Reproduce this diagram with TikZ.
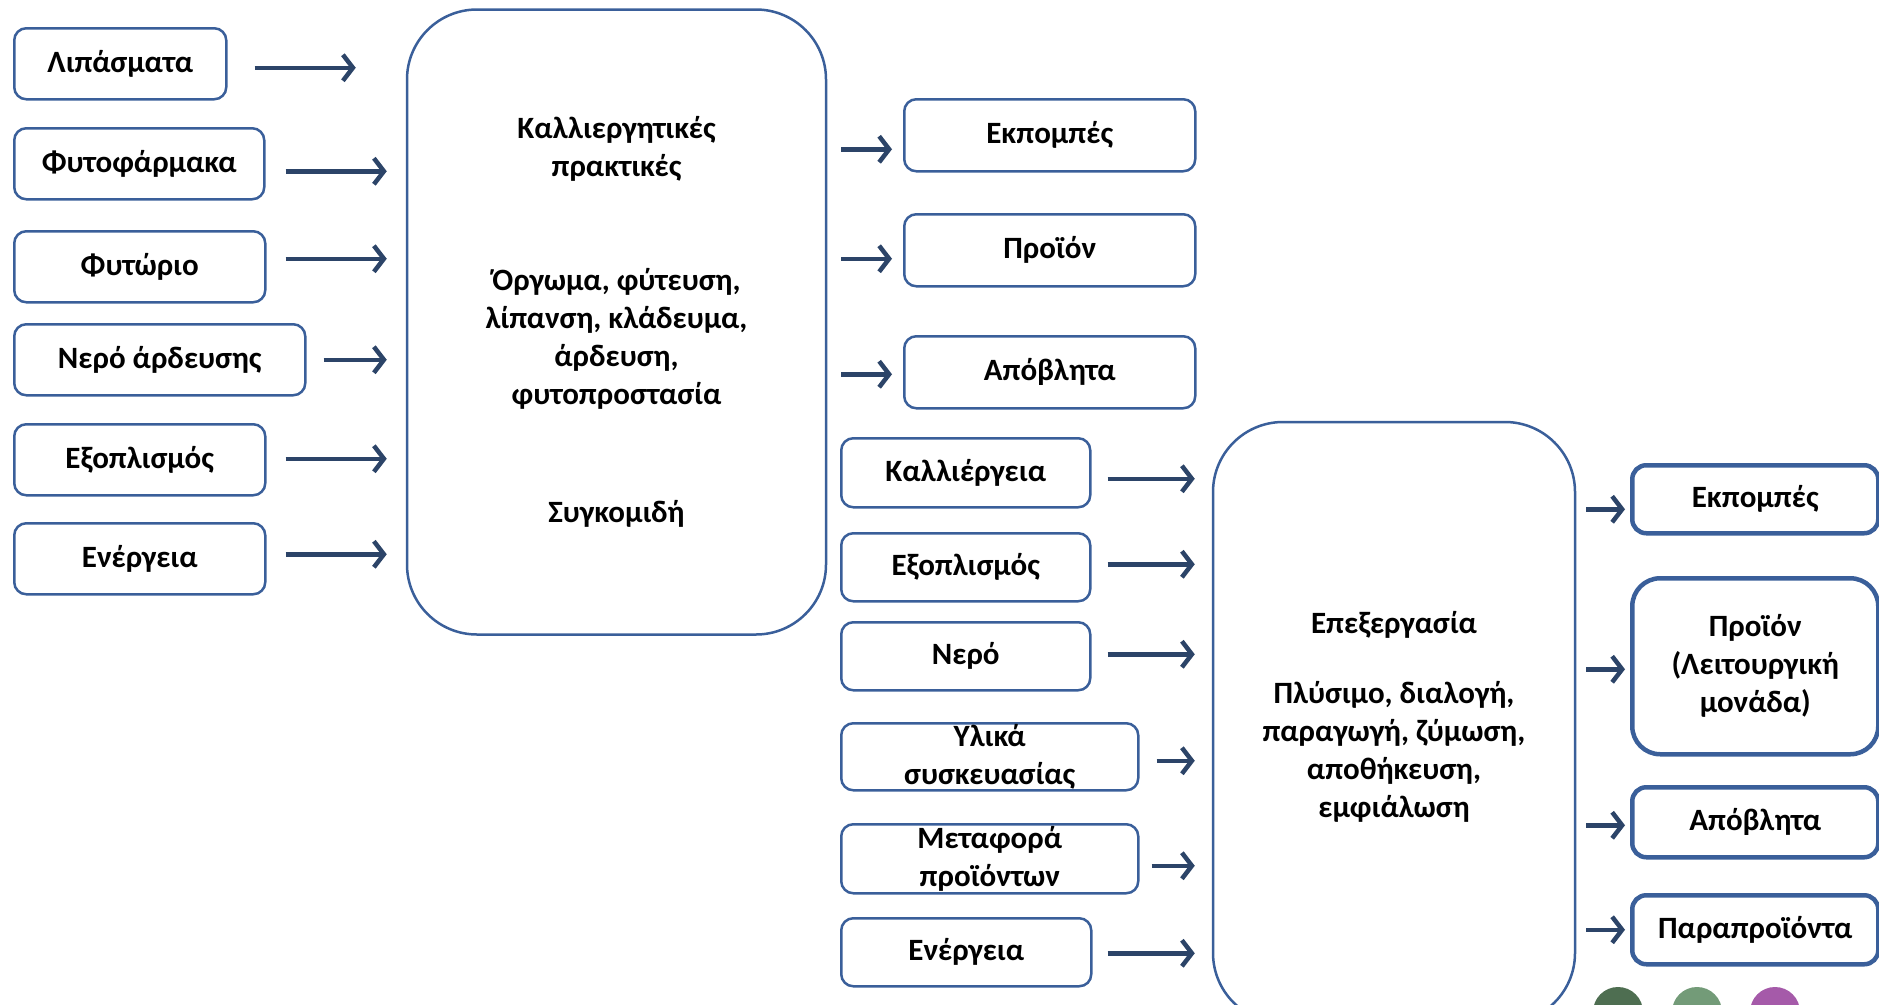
\documentclass[tikz,border=0pt]{standalone}
\usepackage{fontspec}
\setmainfont{Carlito}[BoldFont={Carlito Bold}]
\usetikzlibrary{arrows.meta,positioning,calc}
\definecolor{BoxEdge}{HTML}{3A5F9A}
\definecolor{ArrowNavy}{HTML}{2C4468}
\definecolor{DotA}{HTML}{4E6E51}
\definecolor{DotB}{HTML}{739B78}
\definecolor{DotC}{HTML}{A55AA9}
\tikzset{every node/.style={font=\fontsize{31}{38}\selectfont\bfseries},
 item/.style={draw=BoxEdge,line width=2.5pt,rounded corners=12pt,align=center,
 anchor=north west,inner sep=0pt},outbox/.style={item,line width=4.5pt,rounded corners=14pt},
 stage/.style={draw=BoxEdge,line width=2.5pt,rounded corners=70pt,align=center},
 flow/.style={draw=ArrowNavy,line width=4.5pt,-{Straight Barb[length=10pt,width=26pt]}}}
\begin{document}
\begin{tikzpicture}[x=1pt,y=-1pt]
\useasboundingbox (0,0) rectangle (1879,1004);
\clip (0,0) rectangle (1879,1004);
\node[stage,minimum width=419,minimum height=625] (farm) at (616.5,322)
 {Καλλιεργητικές\\πρακτικές\\[76pt]Όργωμα, φύτευση,\\λίπανση, κλάδευμα,\\άρδευση,\\
 φυτοπροστασία\\[80pt]Συγκομιδή};
\node[stage,minimum width=362,minimum height=601] (proc) at (1394,722.5)
 {Επεξεργασία\\[32pt]Πλύσιμο, διαλογή,\\παραγωγή, ζύμωση,\\αποθήκευση,\\εμφιάλωση\\[-22pt]\mbox{}};
\foreach \nm/\lab/\y/\w/\dy/\s/\e in {lip/Λιπάσματα/27/212/4/27/50,
 fyt/Φυτοφάρμακα/127/250/7.5/20/19,fyr/Φυτώριο/230/251/-8/19/19,
 ner/Νερό άρδευσης/323/291/0/17/19,exo/Εξοπλισμός/423/251/-1/19/19,
 ene/Ενέργεια/522/251/-4.5/19/19}
 {\node[item,minimum width=\w,minimum height=71] (\nm) at (13,\y) {\lab};
 \draw[flow] ($(\nm.east)+(\s,\dy)$)--($(\nm.east -| farm.west)+(-\e,\dy)$);}
\foreach \nm/\lab/\y/\dy in {emA/Εκπομπές/98/14,proA/Προϊόν/213/8.5,wasA/Απόβλητα/335/2}
 {\node[item,minimum width=291,minimum height=72] (\nm) at (903,\y) {\lab};
 \draw[flow] ($(farm.east |- \nm.west)+(14,\dy)$)--($(\nm.west)+(-11,\dy)$);}
\foreach \nm/\lab/\y/\w/\h/\dy/\s in {kal/Καλλιέργεια/437/249/69/6/16,
 exoB/Εξοπλισμός/532/249/68/-3/16,nerB/Νερό/621/249/68/-2/16,
 yli/Υλικά\\συσκευασίας/722/297/67/4/17,met/Μεταφορά\\προϊόντων/823/297/69/7/12,
 eneB/Ενέργεια/917/250/68/1/15}
 {\node[item,minimum width=\w,minimum height=\h] (\nm) at (840,\y) {\lab};
 \draw[flow] ($(\nm.east)+(\s,\dy)$)--($(\nm.east -| proc.west)+(-17,\dy)$);}
\foreach \nm/\lab/\y/\h/\dy in {emB/Εκπομπές/463/68/10,wasB/Απόβλητα/785/70/3,
 byp/Παραπροϊόντα/893/69/0}
 {\node[outbox,minimum width=246,minimum height=\h] (\nm) at (1630,\y) {\lab};
 \draw[flow] ($(proc.east |- \nm.west)+(10,\dy)$)--($(\nm.west)+(-5,\dy)$);}
\node[outbox,rounded corners=28pt,minimum width=246,minimum height=176] (proB)
 at (1630,576) {Προϊόν\\(Λειτουργική\\μονάδα)};
\draw[flow] ($(proc.east |- proB.west)+(10,3)$)--($(proB.west)+(-5,3)$);
\fill[DotA] (1618,1012) circle (25);
\fill[DotB] (1697,1012) circle (25);
\fill[DotC] (1775,1012) circle (25);
\end{tikzpicture}
\end{document}
